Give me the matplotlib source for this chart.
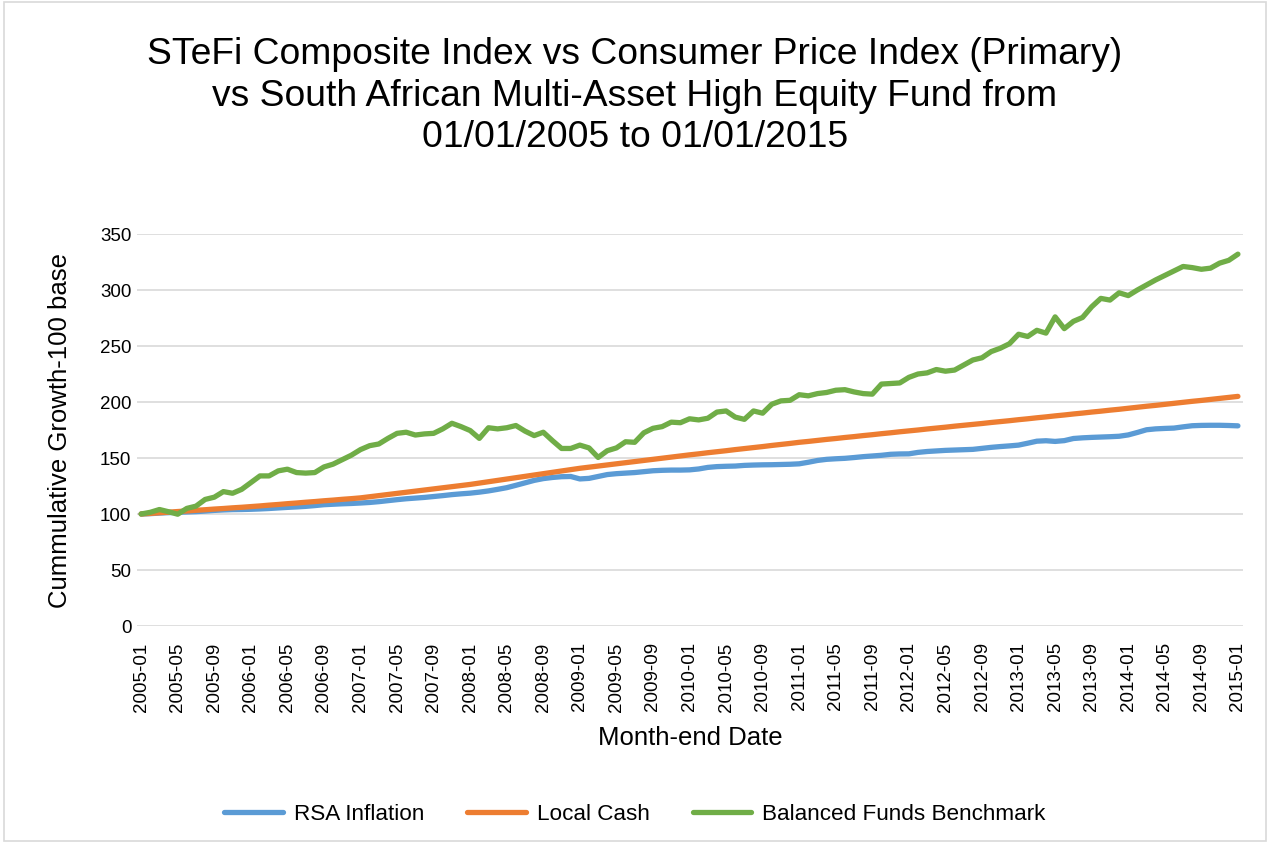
import matplotlib
matplotlib.use("Agg")
import matplotlib.pyplot as plt
import pandas as pd
from matplotlib.patches import Rectangle

plt.rcParams['font.family'] = ['Liberation Sans', 'DejaVu Sans']

START_MONTH = "2005-01"
N_MONTHS = 121

rsa_inflation = [
    100.0, 100.3, 100.8, 101.2, 101.5, 101.8, 102.1, 102.6, 103.2, 103.6,
    103.9, 104.0, 104.2, 104.5, 104.9, 105.4, 105.9, 106.3, 106.8, 107.5,
    108.3, 108.7, 109.1, 109.4, 109.8, 110.3, 111.0, 111.9, 112.8, 113.6,
    114.2, 114.8, 115.6, 116.4, 117.3, 118.0, 118.6, 119.5, 120.6, 122.0,
    123.5, 125.6, 127.8, 130.0, 131.6, 132.6, 133.3, 133.5, 131.3, 131.8,
    133.5, 135.2, 136.0, 136.5, 137.0, 137.8, 138.6, 139.0, 139.2, 139.2,
    139.4, 140.2, 141.6, 142.3, 142.6, 142.8, 143.4, 143.7, 143.9, 144.0,
    144.2, 144.4, 144.8, 146.2, 147.8, 148.8, 149.3, 149.7, 150.4, 151.2,
    151.8, 152.4, 153.3, 153.6, 153.7, 155.0, 155.8, 156.3, 156.8, 157.1,
    157.4, 157.7, 158.6, 159.5, 160.2, 160.8, 161.5, 163.2, 165.0, 165.4,
    164.8, 165.5, 167.4, 168.0, 168.4, 168.7, 169.0, 169.4, 170.6, 172.8,
    175.2, 176.0, 176.4, 176.7, 177.8, 178.8, 179.1, 179.2, 179.2, 179.0,
    178.7,
]

local_cash = [
    100.0, 100.5, 101.1, 101.6, 102.2, 102.7, 103.3, 103.8, 104.4, 104.9,
    105.5, 106.0, 106.6, 107.2, 107.9, 108.5, 109.2, 109.8, 110.5, 111.1,
    111.8, 112.4, 113.1, 113.7, 114.4, 115.4, 116.4, 117.4, 118.4, 119.4,
    120.4, 121.4, 122.4, 123.4, 124.4, 125.4, 126.4, 127.6, 128.8, 130.0,
    131.2, 132.4, 133.6, 134.8, 136.0, 137.2, 138.4, 139.6, 140.8, 141.8,
    142.8, 143.8, 144.8, 145.8, 146.8, 147.8, 148.8, 149.8, 150.8, 151.8,
    152.8, 153.7, 154.7, 155.6, 156.5, 157.5, 158.4, 159.3, 160.2, 161.2,
    162.1, 163.0, 164.0, 164.8, 165.7, 166.6, 167.4, 168.3, 169.1, 170.0,
    170.8, 171.7, 172.5, 173.4, 174.2, 175.0, 175.9, 176.7, 177.5, 178.4,
    179.2, 180.0, 180.8, 181.7, 182.5, 183.3, 184.2, 185.0, 185.9, 186.7,
    187.6, 188.4, 189.3, 190.1, 191.0, 191.8, 192.7, 193.5, 194.4, 195.3,
    196.2, 197.0, 197.9, 198.8, 199.7, 200.6, 201.4, 202.3, 203.2, 204.1,
    205.0,
]

balanced_funds = [
    100, 101.5, 104, 102, 99.8, 105, 107, 113, 115, 120,
    118.5, 122, 128, 134, 134, 138.5, 140, 137, 136.5, 137,
    142, 144.5, 148.5, 152.5, 157.5, 161, 162.5, 167.5, 172, 173,
    170.5, 171.5, 172, 176, 181, 178, 174.5, 167.5, 177, 176,
    177, 179, 174, 170, 173, 165.5, 158.5, 158.5, 161.5, 159,
    150.5, 156.5, 159, 164.5, 164, 172.5, 176.5, 178, 182, 181.5,
    185, 184, 185.5, 191, 192, 186.5, 184.5, 192, 190, 198,
    201, 201.5, 206.5, 205.5, 207.5, 208.5, 210.5, 211, 209, 207.5,
    207, 216, 216.5, 217, 222, 225, 226, 229, 227.5, 228.5,
    233, 237.5, 239.5, 245, 248, 252, 260.5, 258.5, 264, 261.5,
    276, 265.5, 272, 275.5, 285, 292.5, 291, 297.5, 295, 300,
    304.5, 309, 313, 317, 321, 320, 318.5, 319.5, 324, 326.5,
    332,
]

TITLE = ("STeFi Composite Index vs Consumer Price Index (Primary)\n"
         "vs South African Multi-Asset High Equity Fund from\n"
         "01/01/2005 to 01/01/2015")


def main():
    months = pd.period_range(START_MONTH, periods=N_MONTHS, freq="M").strftime("%Y-%m")
    x = list(range(N_MONTHS))

    fig = plt.figure(figsize=(12.7, 8.45), dpi=100)
    ax = fig.add_axes([0.1079, 0.258, 0.8708, 0.4639])

    ax.plot(x, rsa_inflation, color="#5B9BD5", lw=3.8, solid_capstyle="round",
            solid_joinstyle="round", label="RSA Inflation", zorder=3)
    ax.plot(x, local_cash, color="#ED7D31", lw=3.8, solid_capstyle="round",
            solid_joinstyle="round", label="Local Cash", zorder=3)
    ax.plot(x, balanced_funds, color="#70AD47", lw=3.8, solid_capstyle="round",
            solid_joinstyle="round", label="Balanced Funds Benchmark", zorder=3)

    ax.set_xlim(-0.45, 120.55)
    ax.set_ylim(0, 350)
    ax.set_yticks(range(0, 351, 50))
    ax.yaxis.grid(True, color="#D9D9D9", lw=1.2)
    ax.set_axisbelow(True)
    for side in ["top", "right", "left", "bottom"]:
        ax.spines[side].set_visible(False)

    ticks = x[::4]
    ax.set_xticks(ticks)
    ax.set_xticklabels([months[i] for i in ticks], rotation=90)
    ax.tick_params(axis="x", length=0, pad=11, labelsize=13.5)
    ax.tick_params(axis="y", length=0, pad=4, labelsize=13.5)

    ax.set_xlabel("Month-end Date", fontsize=18.5, labelpad=10)
    ax.set_ylabel("Cummulative Growth-100 base", fontsize=18.5, labelpad=20)

    fig.text(0.5, 1 - 96 / 845, TITLE, ha="center", va="center",
             fontsize=26.8, linespacing=1.24)

    fig.legend(loc="center", bbox_to_anchor=(0.5, 1 - 815 / 845), ncol=3,
               frameon=False, fontsize=16.2, handlelength=2.6,
               handletextpad=0.5, columnspacing=1.9)

    fig.patches.append(Rectangle((0.003, 0.003), 0.994, 0.994, transform=fig.transFigure,
                                 fill=False, edgecolor="#D9D9D9", lw=1.2))

    fig.savefig("out.png", dpi=100)


if __name__ == '__main__':
    main()
